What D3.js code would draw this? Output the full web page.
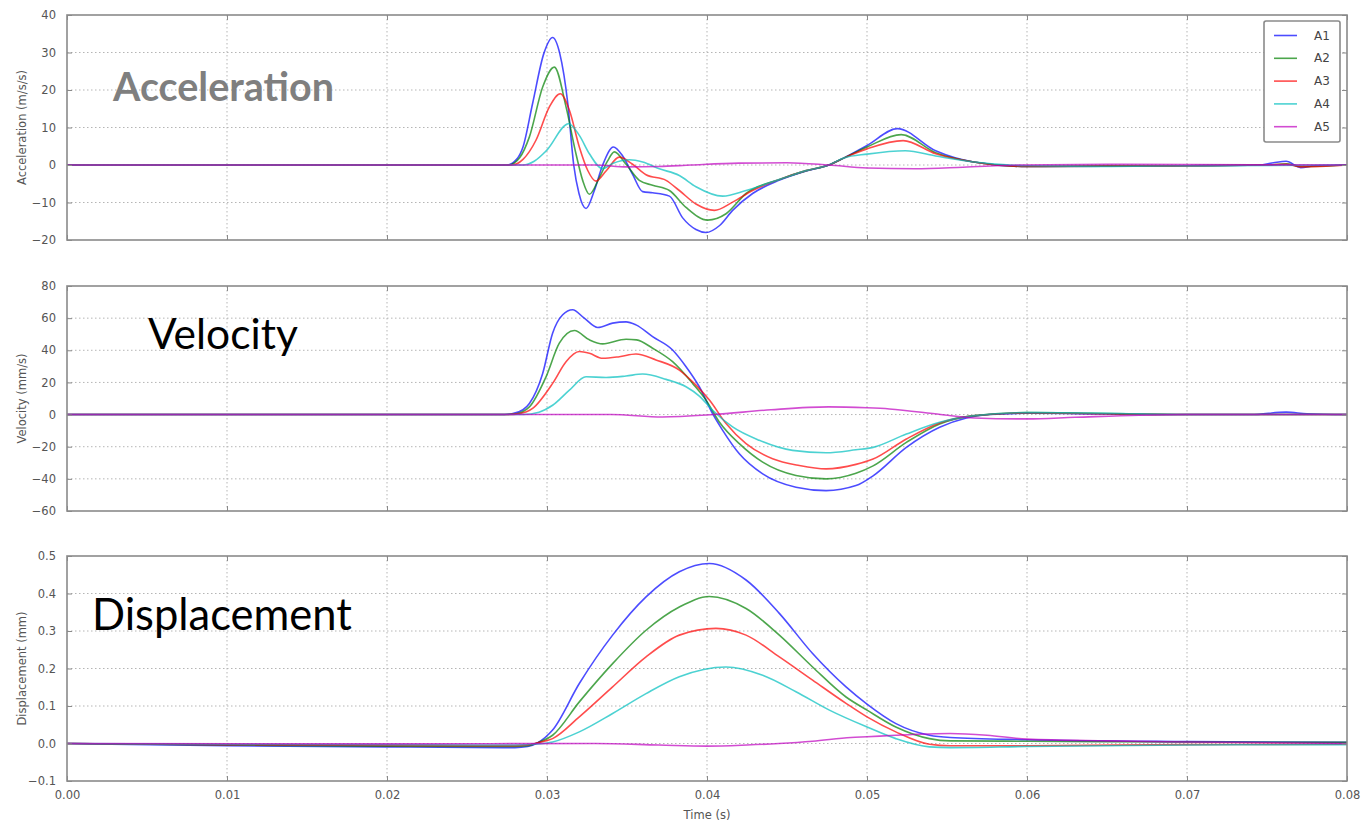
<!DOCTYPE html>
<html>
<head>
<meta charset="utf-8">
<script src="https://cdn.jsdelivr.net/npm/d3@7"></script>
<style>
  html, body { margin: 0; padding: 0; background: #fff; }
  svg { display: block; font-family: "DejaVu Sans", sans-serif; }
</style>
</head>
<body>
<svg id="chart" width="1363" height="824"></svg>
<script>
// ---- series identity ----
const seriesNames  = ["A1", "A2", "A3", "A4", "A5"];
const seriesColors = ["#0000ff", "#008000", "#ff0000", "#00bfbf", "#bf00bf"];

// ---- tick values ----
const timeTicks = [0, 0.01, 0.02, 0.03, 0.04, 0.05, 0.06, 0.07, 0.08];
const accTicks  = [-20, -10, 0, 10, 20, 30, 40];
const velTicks  = [-60, -40, -20, 0, 20, 40, 60, 80];
const dispTicks = [-0.1, 0, 0.1, 0.2, 0.3, 0.4, 0.5];

// ---- acceleration (m/s/s), [time s, value] ----
const accA1 = [[0,0],[0.0275,0],[0.0281,1.5],[0.0285,4.8],[0.0291,16.4],[0.0298,29.7],[0.03035,34],[0.0308,29.7],[0.0313,16.4],[0.03167,0],[0.032,-7.6],[0.03244,-11.6],[0.03296,-6.8],[0.03348,0],[0.03415,4.8],[0.03473,2.4],[0.03535,-2.5],[0.03598,-7.1],[0.0366,-7.4],[0.03765,-8.3],[0.03848,-14.1],[0.03931,-17.2],[0.03994,-18.0],[0.04077,-16.2],[0.0416,-12.1],[0.04285,-7.6],[0.0445,-4.1],[0.0462,-1.6],[0.04762,0],[0.04857,1.9],[0.05,5.2],[0.0519,9.7],[0.05429,3.8],[0.05667,0.8],[0.06,-0.4],[0.065,-0.3],[0.07,-0.2],[0.0745,0],[0.0754,0.6],[0.0762,1.0],[0.0771,-0.7],[0.078,-0.2],[0.08,0]];
const accA2 = [[0,0],[0.0276,0],[0.0283,2],[0.0289,7.5],[0.02973,20.8],[0.03046,26.1],[0.03119,15.5],[0.03181,3.0],[0.03223,-4.1],[0.03265,-7.8],[0.03327,-3.4],[0.03379,1.1],[0.03421,3.5],[0.03494,0.2],[0.03577,-4.1],[0.0366,-5.4],[0.03765,-6.8],[0.03869,-11.3],[0.04004,-14.7],[0.04119,-13.0],[0.04244,-7.6],[0.0445,-3.9],[0.0462,-1.5],[0.04762,0],[0.04857,1.9],[0.05,4.8],[0.05214,8.1],[0.05429,3.3],[0.05667,0.8],[0.06,-0.4],[0.065,-0.3],[0.07,-0.2],[0.075,0],[0.0762,0.3],[0.0771,-0.4],[0.08,0]];
const accA3 = [[0,0],[0.0278,0],[0.0285,1.5],[0.02931,6.6],[0.03015,15.5],[0.03083,19],[0.0314,14.6],[0.03202,4.8],[0.03254,-1.4],[0.03306,-4.3],[0.03369,-1.6],[0.03452,2.1],[0.03535,0.2],[0.03619,-2.6],[0.03744,-4.1],[0.03827,-6.8],[0.03931,-10.4],[0.04046,-12.1],[0.0416,-9.9],[0.04285,-6.8],[0.0445,-3.9],[0.0462,-1.5],[0.04762,0],[0.04857,1.9],[0.05,4.3],[0.05226,6.5],[0.05429,3.0],[0.05667,0.8],[0.06,-0.4],[0.07,-0.2],[0.075,0],[0.0762,0.2],[0.0771,-0.5],[0.08,0]];
const accA4 = [[0,0],[0.0285,0],[0.0292,1],[0.02998,3.9],[0.03135,11],[0.03202,7.9],[0.03265,3.0],[0.03348,-1.0],[0.0341,0.4],[0.03515,1.4],[0.03598,0.8],[0.03702,-1.0],[0.03827,-2.8],[0.03931,-5.8],[0.04098,-8.3],[0.04244,-6.8],[0.0445,-3.9],[0.0462,-1.5],[0.04762,0],[0.04857,1.9],[0.05,2.9],[0.0524,3.8],[0.05429,2.4],[0.05667,0.8],[0.06,-0.2],[0.065,-0.4],[0.07,-0.2],[0.08,0]];
const accA5 = [[0,0],[0.033,0],[0.035,-0.5],[0.037,-0.4],[0.039,0],[0.042,0.5],[0.045,0.6],[0.0476,0],[0.05,-0.8],[0.053,-1.0],[0.056,-0.6],[0.0595,0],[0.065,0.2],[0.07,0.1],[0.08,0]];

// ---- velocity (mm/s) ----
const velA1 = [[0,0],[0.027,0],[0.0278,0.5],[0.0285,3],[0.0289,6.9],[0.02973,25.6],[0.03035,50.6],[0.03098,62.1],[0.0316,65.2],[0.03233,60],[0.03317,54.2],[0.0341,56.9],[0.03494,57.7],[0.03556,55.8],[0.0366,48.5],[0.03785,40.2],[0.03869,29.8],[0.03952,17.3],[0.04035,0.6],[0.04098,-9.8],[0.04202,-24.4],[0.04348,-36.9],[0.04556,-45.2],[0.04744,-47.3],[0.04931,-44.2],[0.05038,-38.1],[0.05246,-20.4],[0.05454,-7.9],[0.05621,-2.1],[0.05767,0],[0.06,0.8],[0.063,0.6],[0.068,0],[0.074,0],[0.0762,1.5],[0.0775,0.5],[0.08,0]];
const velA2 = [[0,0],[0.0272,0],[0.028,0.4],[0.0289,4.8],[0.02994,23.5],[0.03077,44.4],[0.03171,52.3],[0.03265,46.5],[0.03348,44],[0.03494,46.9],[0.0356,46.5],[0.0366,41.3],[0.03785,32.9],[0.0391,19.4],[0.03994,9],[0.04077,-4.6],[0.04202,-18.1],[0.04348,-29.6],[0.04556,-37.9],[0.04744,-40],[0.04931,-36.5],[0.05038,-31.9],[0.05246,-17.3],[0.05454,-5.8],[0.0566,-0.8],[0.06,1.2],[0.064,0.8],[0.07,0],[0.08,0]];
const velA3 = [[0,0],[0.0274,0],[0.0283,0.6],[0.0291,3.8],[0.03035,19.4],[0.03119,32.9],[0.03202,39.2],[0.03265,38.1],[0.03348,35],[0.03452,36],[0.03556,37.7],[0.03681,34],[0.03827,27.7],[0.03931,18.3],[0.04015,9],[0.04119,-5.6],[0.04244,-18.1],[0.0441,-27.5],[0.04577,-31.7],[0.04744,-33.8],[0.04931,-31],[0.05038,-27.7],[0.05246,-15.2],[0.05454,-5.2],[0.0566,-0.8],[0.06,1.0],[0.065,0.5],[0.07,0],[0.08,0]];
const velA4 = [[0,0],[0.0285,0],[0.0295,1.5],[0.03035,5.8],[0.0314,15.2],[0.03244,23.5],[0.03369,23.1],[0.03494,24],[0.03598,25.2],[0.03744,21.9],[0.03869,17.3],[0.03952,11.5],[0.04035,2.7],[0.0416,-7.7],[0.04327,-16],[0.04535,-22.3],[0.04744,-23.8],[0.04931,-21.9],[0.05038,-20.4],[0.05246,-12.1],[0.05454,-4.8],[0.0566,-0.8],[0.06,1.2],[0.065,0.8],[0.07,0],[0.08,0]];
const velA5 = [[0,0],[0.034,0],[0.0372,-1.5],[0.0404,0],[0.044,3],[0.0476,4.8],[0.05,4.2],[0.0514,3.5],[0.0546,0],[0.0567,-2.1],[0.06,-2.7],[0.063,-1.7],[0.067,-0.4],[0.07,0],[0.08,0]];

// ---- displacement (mm) ----
const dispA1 = [[0,0],[0.01,-0.006],[0.02,-0.009],[0.028,-0.011],[0.0288,-0.008],[0.02942,0.002],[0.03035,0.036],[0.03202,0.16],[0.0341,0.289],[0.03619,0.391],[0.03827,0.458],[0.04015,0.48],[0.04244,0.436],[0.04452,0.347],[0.0466,0.24],[0.04869,0.151],[0.05,0.105],[0.05181,0.053],[0.0539,0.022],[0.0552,0.016],[0.06,0.01],[0.07,0.005],[0.08,0.003]];
const dispA2 = [[0,0],[0.01,-0.004],[0.02,-0.007],[0.028,-0.008],[0.0288,-0.006],[0.02942,0.002],[0.03035,0.022],[0.03202,0.111],[0.0341,0.213],[0.03619,0.302],[0.03827,0.364],[0.04015,0.392],[0.04244,0.36],[0.04452,0.289],[0.0466,0.204],[0.04869,0.124],[0.05,0.089],[0.0518,0.044],[0.0539,0.013],[0.0552,0.007],[0.06,0.006],[0.07,0.004],[0.08,0.003]];
const dispA3 = [[0,0],[0.01,-0.003],[0.02,-0.005],[0.028,-0.006],[0.0288,-0.004],[0.02942,0.002],[0.03035,0.013],[0.03202,0.071],[0.0341,0.151],[0.03619,0.231],[0.03827,0.289],[0.04056,0.307],[0.04244,0.289],[0.04452,0.231],[0.0466,0.169],[0.04869,0.107],[0.05,0.071],[0.0518,0.031],[0.0539,-0.002],[0.0552,-0.006],[0.06,-0.006],[0.07,-0.003],[0.08,-0.002]];
const dispA4 = [[0,0],[0.01,-0.002],[0.02,-0.003],[0.028,-0.004],[0.0292,-0.002],[0.03035,0.004],[0.03202,0.031],[0.0341,0.08],[0.03619,0.133],[0.03827,0.178],[0.04119,0.204],[0.04348,0.182],[0.04556,0.138],[0.04765,0.089],[0.05,0.044],[0.0518,0.013],[0.0539,-0.009],[0.0552,-0.011],[0.06,-0.008],[0.07,-0.004],[0.08,-0.003]];
const dispA5 = [[0,0],[0.02,-0.001],[0.033,0],[0.037,-0.004],[0.04,-0.007],[0.0425,-0.004],[0.0445,0],[0.0466,0.006],[0.049,0.016],[0.05,0.018],[0.0518,0.022],[0.0552,0.0266],[0.0575,0.022],[0.06,0.0116],[0.065,0.007],[0.07,0.004],[0.08,0]];

// ---- panel definitions ----
const panels = [
  { label: "Acceleration", labelStyle: { x: 113, y: 101, size: 39.5, weight: 700, fill: "#7f7f7f" },
    yTitle: "Acceleration (m/s/s)", domain: [-20, 40], ticks: accTicks, fmt: d3.format("d"),
    series: [accA1, accA2, accA3, accA4, accA5], top: 15 },
  { label: "Velocity", labelStyle: { x: 148, y: 349, size: 42.5, weight: 400, fill: "#000" },
    yTitle: "Velocity (mm/s)", domain: [-60, 80], ticks: velTicks, fmt: d3.format("d"),
    series: [velA1, velA2, velA3, velA4, velA5], top: 286 },
  { label: "Displacement", labelStyle: { x: 92, y: 630, size: 43.5, weight: 400, fill: "#000" },
    yTitle: "Displacement (mm)", domain: [-0.1, 0.5], ticks: dispTicks, fmt: d3.format(".1f"),
    series: [dispA1, dispA2, dispA3, dispA4, dispA5], top: 556 }
];

const left = 67, right = 1347, panelH = 225;
const svg = d3.select("#chart");
const x = d3.scaleLinear().domain([0, 0.08]).range([left, right]);
const tickColor = "#555";
const frameColor = "#8a8a8a";

panels.forEach((p, pi) => {
  const y = d3.scaleLinear().domain(p.domain).range([p.top + panelH, p.top]);
  const g = svg.append("g");

  // grid
  g.selectAll("line.vgrid").data(timeTicks.slice(1, -1)).join("line")
    .attr("x1", d => x(d)).attr("x2", d => x(d))
    .attr("y1", p.top).attr("y2", p.top + panelH)
    .attr("stroke", "#b5b5b5").attr("stroke-width", 1).attr("stroke-dasharray", "1.5,2.5");
  g.selectAll("line.hgrid").data(p.ticks.slice(1, -1)).join("line")
    .attr("x1", left).attr("x2", right)
    .attr("y1", d => y(d)).attr("y2", d => y(d))
    .attr("stroke", "#b5b5b5").attr("stroke-width", 1).attr("stroke-dasharray", "1.5,2.5");

  // series lines
  const line = d3.line().x(d => x(d[0])).y(d => y(d[1])).curve(d3.curveMonotoneX);
  p.series.forEach((s, si) => {
    g.append("path").datum(s).attr("d", line)
      .attr("fill", "none").attr("stroke", seriesColors[si])
      .attr("stroke-opacity", 0.7).attr("stroke-width", 1.6)
      .attr("stroke-linejoin", "round");
  });

  // inward ticks on all four sides
  const yAxL = d3.axisLeft(y).tickValues(p.ticks).tickSizeInner(-5).tickSizeOuter(0).tickFormat(p.fmt).tickPadding(11);
  const yAxR = d3.axisRight(y).tickValues(p.ticks).tickSizeInner(-5).tickSizeOuter(0).tickFormat("");
  const xAxB = d3.axisBottom(x).tickValues(timeTicks).tickSizeInner(-5).tickSizeOuter(0)
    .tickFormat(pi === panels.length - 1 ? d3.format(".2f") : "").tickPadding(10);
  const xAxT = d3.axisTop(x).tickValues(timeTicks).tickSizeInner(-5).tickSizeOuter(0).tickFormat("");

  const axL = g.append("g").attr("transform", `translate(${left},0)`).call(yAxL);
  const axR = g.append("g").attr("transform", `translate(${right},0)`).call(yAxR);
  const axB = g.append("g").attr("transform", `translate(0,${p.top + panelH})`).call(xAxB);
  const axT = g.append("g").attr("transform", `translate(0,${p.top})`).call(xAxT);
  [axL, axR, axB, axT].forEach(a => {
    a.select(".domain").remove();
    a.selectAll(".tick line").attr("stroke", frameColor).attr("stroke-width", 1);
    a.selectAll(".tick text").attr("fill", tickColor).attr("font-size", 11.5)
      .attr("font-family", "DejaVu Sans, sans-serif");
  });

  // frame
  g.append("rect").attr("x", left).attr("y", p.top).attr("width", right - left).attr("height", panelH)
    .attr("fill", "none").attr("stroke", frameColor).attr("stroke-width", 1.6);

  // y-axis title
  g.append("text")
    .attr("transform", `translate(22,${p.top + panelH / 2}) rotate(-90)`)
    .attr("text-anchor", "middle").attr("dominant-baseline", "central")
    .attr("font-size", 11.5).attr("fill", tickColor).text(p.yTitle);

  // large panel caption
  const ls = p.labelStyle;
  g.append("text").attr("x", ls.x).attr("y", ls.y)
    .attr("font-family", "Lato, 'Open Sans', sans-serif")
    .attr("font-size", ls.size).attr("font-weight", ls.weight).attr("fill", ls.fill)
    .text(p.label);
});

// x-axis title
svg.append("text").attr("x", 707).attr("y", 819).attr("text-anchor", "middle")
  .attr("font-size", 11.5).attr("fill", tickColor).text("Time (s)");

// legend
const lg = svg.append("g").attr("transform", "translate(1264,21)");
lg.append("rect").attr("width", 76).attr("height", 121).attr("rx", 2)
  .attr("fill", "#fff").attr("stroke", frameColor).attr("stroke-width", 1.6);
seriesNames.forEach((name, i) => {
  const yy = 14.5 + i * 22.8;
  lg.append("line").attr("x1", 10).attr("x2", 33).attr("y1", yy).attr("y2", yy)
    .attr("stroke", seriesColors[i]).attr("stroke-opacity", 0.7).attr("stroke-width", 1.6);
  lg.append("text").attr("x", 50).attr("y", yy).attr("dominant-baseline", "central")
    .attr("font-size", 12).attr("fill", "#444").text(name);
});
</script>
</body>
</html>
